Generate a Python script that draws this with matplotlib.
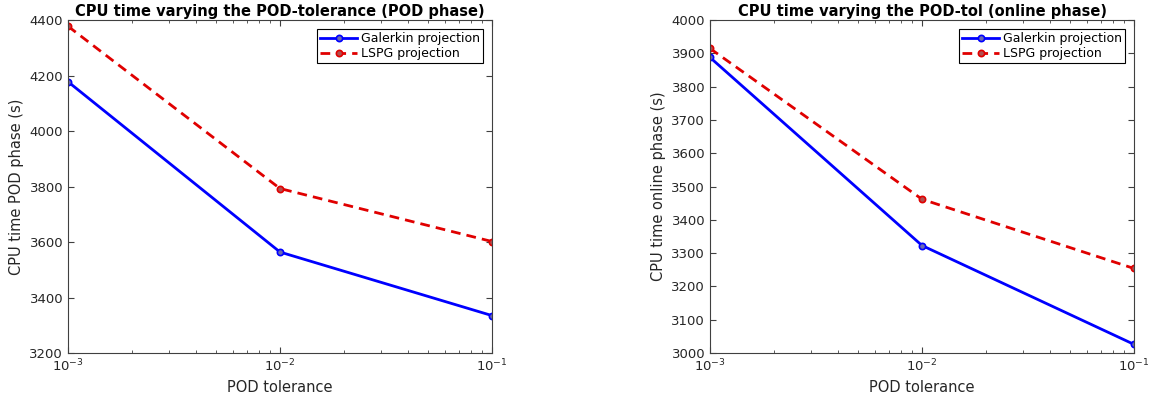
import matplotlib
matplotlib.use("Agg")
import matplotlib.pyplot as plt
from matplotlib.ticker import LogLocator, NullFormatter

tol = [1e-3, 1e-2, 1e-1]
pod_galerkin = [4178, 3564, 3335]
pod_lspg = [4378, 3793, 3602]
online_galerkin = [3888, 3323, 3026]
online_lspg = [3915, 3462, 3254]

titles = ["CPU time varying the POD-tolerance (POD phase)",
          "CPU time varying the POD-tol (online phase)"]
ylabels = ["CPU time POD phase (s)", "CPU time online phase (s)"]
xlabel = "POD tolerance"
ylims = [(3200, 4400), (3000, 4000)]
yticks = [[3200, 3400, 3600, 3800, 4000, 4200, 4400],
          list(range(3000, 4001, 100))]

fig = plt.figure(figsize=(11.49, 4.03), dpi=100)
ax1 = fig.add_axes([68 / 1149, 0.124, 424 / 1149, 0.826])
ax2 = fig.add_axes([710 / 1149, 0.124, 424 / 1149, 0.826])

gray = "#404040"
for ax, g, l, t, yl, ylim, yt in zip([ax1, ax2],
                                      [pod_galerkin, online_galerkin],
                                      [pod_lspg, online_lspg],
                                      titles, ylabels, ylims, yticks):
    ax.plot(tol, g, color="#0000ff", lw=2, marker="o", ms=4.5,
            mfc="#6a6ab0", mec="#0000ff", mew=1.2, label="Galerkin projection")
    ax.plot(tol, l, color="#e00000", lw=2, ls=(0, (3.5, 2.2)), marker="o", ms=4.5,
            mfc="#b05050", mec="#e00000", mew=1.2, label="LSPG projection")
    ax.set_xscale("log")
    ax.set_xlim(1e-3, 1e-1)
    ax.set_ylim(*ylim)
    ax.set_yticks(yt)
    ax.xaxis.set_minor_locator(LogLocator(base=10, subs=range(2, 10)))
    ax.xaxis.set_minor_formatter(NullFormatter())
    ax.tick_params(which="both", direction="in", top=True, right=True,
                   colors=gray, labelcolor="#262626", labelsize=9.5)
    ax.tick_params(which="major", length=4)
    ax.tick_params(which="minor", length=2)
    for s in ax.spines.values():
        s.set_color(gray)
    ax.set_title(t, fontsize=10.5, fontweight="bold", pad=3)
    ax.set_xlabel(xlabel, fontsize=10.5, color="#262626")
    ax.set_ylabel(yl, fontsize=10.5, color="#262626")
    leg = ax.legend(loc="upper right", fontsize=9, fancybox=False,
                    framealpha=1, edgecolor="black", borderpad=0.25,
                    handlelength=3.0, labelspacing=0.15, handletextpad=0.3,
                    borderaxespad=0.7)
    leg.get_frame().set_linewidth(0.8)

fig.savefig("out.png", dpi=100)
